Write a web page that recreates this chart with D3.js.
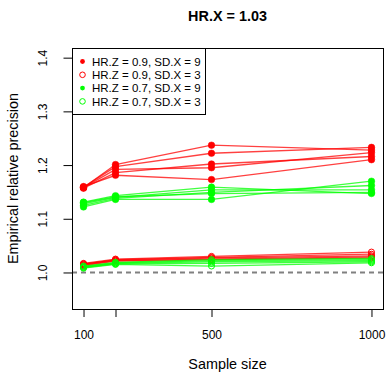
<!DOCTYPE html>
<html>
<head>
<meta charset="utf-8">
<script src="https://cdn.jsdelivr.net/npm/d3@7"></script>
<style>
  body { margin: 0; background: #fff; }
  text { font-family: "Liberation Sans", Arial, sans-serif; fill: #000; }
</style>
</head>
<body>
<div id="chart"></div>
<script>
// sample sizes on the x axis
const sampleSizes = [100, 200, 500, 1000];
const xTicks = [100, 200, 500, 1000];
const xTickLabels = ['100', '', '500', '1000'];
const yTicks = [1.0, 1.1, 1.2, 1.3, 1.4];

// HR.Z = 0.9, SD.X = 9 (red, filled)
const redFilled = [
    [1.158, 1.201, 1.237, 1.228],
    [1.159, 1.197, 1.222, 1.233],
    [1.157, 1.186, 1.202, 1.216],
    [1.158, 1.192, 1.195, 1.223],
    [1.160, 1.181, 1.173, 1.210]
];
// HR.Z = 0.9, SD.X = 3 (red, open)
const redOpen = [
    [1.017, 1.025, 1.030, 1.038],
    [1.015, 1.024, 1.028, 1.034],
    [1.016, 1.023, 1.027, 1.031],
    [1.014, 1.022, 1.025, 1.029],
    [1.013, 1.021, 1.024, 1.027]
];
// HR.Z = 0.7, SD.X = 9 (green, filled)
const greenFilled = [
    [1.131, 1.143, 1.159, 1.147],
    [1.128, 1.140, 1.154, 1.154],
    [1.125, 1.138, 1.149, 1.162],
    [1.130, 1.141, 1.147, 1.149],
    [1.122, 1.136, 1.136, 1.170]
];
// HR.Z = 0.7, SD.X = 3 (green, open)
const greenOpen = [
    [1.012, 1.019, 1.024, 1.026],
    [1.011, 1.018, 1.022, 1.024],
    [1.010, 1.017, 1.020, 1.022],
    [1.009, 1.016, 1.017, 1.020],
    [1.008, 1.015, 1.012, 1.018]
];

const legendLabels = [
    'HR.Z = 0.9, SD.X = 9',
    'HR.Z = 0.9, SD.X = 3',
    'HR.Z = 0.7, SD.X = 9',
    'HR.Z = 0.7, SD.X = 3'
];
const title = 'HR.X = 1.03';
const xLabel = 'Sample size';
const yLabel = 'Empirical relative precision';

const width = 388;
const height = 375;
const plot = { left: 72, right: 383, top: 48, bottom: 309 };

const svg = d3.select('#chart')
    .append('svg')
    .attr('width', width)
    .attr('height', height);

// R style 4% padding around xlim / ylim
const x = d3.scaleLinear().domain([64, 1036]).range([plot.left, plot.right]);
const y = d3.scaleLinear().domain([0.932, 1.418]).range([plot.bottom, plot.top]);

const groups = [
    { rows: redFilled, color: '#ff0000', filled: true },
    { rows: redOpen, color: '#ff0000', filled: false },
    { rows: greenFilled, color: '#00ff00', filled: true },
    { rows: greenOpen, color: '#00ff00', filled: false }
];

// reference line at 1
svg.append('line')
    .attr('x1', plot.left)
    .attr('x2', plot.right)
    .attr('y1', y(1))
    .attr('y2', y(1))
    .style('stroke', '#808080')
    .style('stroke-width', 2)
    .style('stroke-dasharray', '5,4');

const line = d3.line()
    .x((d, i) => x(sampleSizes[i]))
    .y(d => y(d));

groups.forEach(g => {
    let series = svg.append('g').classed('series', true);
    series.selectAll('path')
        .data(g.rows)
        .enter()
        .append('path')
        .attr('d', d => line(d))
        .style('fill', 'none')
        .style('stroke', g.color)
        .style('stroke-opacity', 0.75)
        .style('stroke-width', 1.3);
    g.rows.forEach(row => {
        series.selectAll(null)
            .data(row)
            .enter()
            .append('circle')
            .attr('cx', (d, i) => x(sampleSizes[i]))
            .attr('cy', d => y(d))
            .attr('r', g.filled ? 3.3 : 3)
            .style('fill', g.filled ? g.color : 'none')
            .style('stroke', g.color)
            .style('stroke-width', g.filled ? 0.5 : 1);
    });
});

// box
svg.append('rect')
    .attr('x', plot.left + 0.5)
    .attr('y', plot.top + 0.5)
    .attr('width', plot.right - plot.left)
    .attr('height', plot.bottom - plot.top)
    .style('fill', 'none')
    .style('stroke', '#000');

// y axis
let yAxis = svg.append('g')
    .attr('transform', `translate(${plot.left + 0.5},0)`)
    .call(d3.axisLeft(y).tickValues(yTicks).tickSize(9).tickFormat(d3.format('.1f')));
yAxis.select('.domain').remove();
yAxis.selectAll('text')
    .attr('x', 0)
    .attr('y', -26)
    .attr('dy', null)
    .attr('transform', 'rotate(-90)')
    .style('text-anchor', 'middle')
    .style('font-size', '12px')
    .style('font-family', '"Liberation Sans", Arial, sans-serif');

// x axis
let xAxis = svg.append('g')
    .attr('transform', `translate(0,${plot.bottom + 1})`)
    .call(d3.axisBottom(x).tickValues(xTicks).tickSize(7).tickFormat((d, i) => xTickLabels[i]));
xAxis.select('.domain').remove();
xAxis.selectAll('text')
    .attr('y', 29)
    .attr('dy', null)
    .style('font-size', '12px')
    .style('font-family', '"Liberation Sans", Arial, sans-serif');

// titles
svg.append('text')
    .attr('x', (plot.left + plot.right) / 2)
    .attr('y', 21)
    .style('text-anchor', 'middle')
    .style('font-weight', 'bold')
    .style('font-size', '14.4px')
    .text(title);
svg.append('text')
    .attr('x', (plot.left + plot.right) / 2)
    .attr('y', 369)
    .style('text-anchor', 'middle')
    .style('font-size', '14.4px')
    .text(xLabel);
svg.append('text')
    .attr('transform', `translate(18,${(plot.top + plot.bottom) / 2}) rotate(-90)`)
    .style('text-anchor', 'middle')
    .style('font-size', '14.4px')
    .text(yLabel);

// legend
let legend = svg.append('g')
    .classed('legend', true)
    .attr('transform', `translate(${plot.left},${plot.top})`);
legend.append('rect')
    .attr('x', 0.5)
    .attr('y', 0.5)
    .attr('width', 133)
    .attr('height', 66)
    .style('fill', '#fff')
    .style('stroke', '#000');
let items = legend.selectAll('.legend-item')
    .data(legendLabels)
    .enter()
    .append('g')
    .classed('legend-item', true)
    .attr('transform', (d, i) => `translate(0,${13.5 + i * 13.3})`);
items.append('circle')
    .attr('cx', 10.5)
    .attr('cy', 0)
    .attr('r', (d, i) => groups[i].filled ? 2.4 : 2.8)
    .style('fill', (d, i) => groups[i].filled ? groups[i].color : 'none')
    .style('stroke', (d, i) => groups[i].color)
    .style('stroke-width', (d, i) => groups[i].filled ? 0 : 1);
items.append('text')
    .attr('x', 20)
    .attr('y', 4.2)
    .style('font-size', '11.5px')
    .text(d => d);
</script>
</body>
</html>
